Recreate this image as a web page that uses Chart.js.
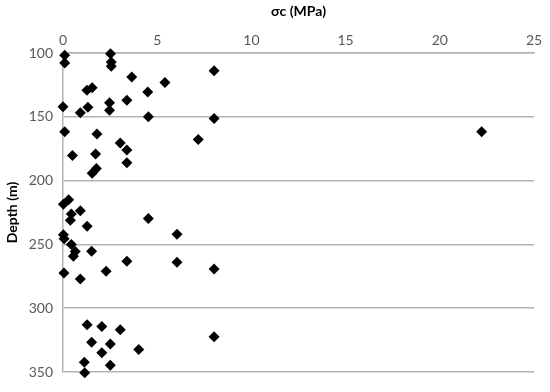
<!DOCTYPE html>
<html>
<head>
<meta charset="utf-8">
<script src="https://cdn.jsdelivr.net/npm/chart.js@4.4.1/dist/chart.umd.min.js"></script>
<style>
html,body{margin:0;padding:0;background:#fff;}
#wrap{width:550px;height:392px;position:relative;}
</style>
</head>
<body>
<div id="wrap"><canvas id="c" width="550" height="392"></canvas></div>
<script>
const sigmaC = [0.09,0.09,2.52,2.56,2.56,8.02,3.65,5.41,4.5,1.55,1.27,0.0,1.32,0.92,2.47,2.47,3.39,4.53,8.02,0.09,1.8,7.18,3.04,3.39,0.5,1.73,3.39,1.77,1.55,22.22,
0.3,0.02,0.44,0.92,0.39,1.28,4.53,6.05,0.02,0.06,0.44,0.65,0.55,1.52,3.39,6.05,8.02,2.29,0.05,0.92,
1.28,2.06,3.04,8.02,1.52,2.51,4.02,2.06,1.13,2.51,1.15];
const depth = [101.8,107.8,100.5,107,110.4,114,118.8,123.2,130.5,127.3,129.2,142.2,142.5,146.8,139,144.8,137,150,151.3,161.8,163.5,167.7,170.6,176,180.4,179.2,186,190.5,194.3,161.7,
215,218.5,226.2,223.7,231,235.7,229.7,242.1,242.5,245.5,250,255.5,259.3,255.4,263.2,263.9,269.2,271,272.4,277.1,
313,314.3,316.8,322.4,326.7,328,332.4,335,342.4,344.7,350.5];
const xTitle = 'σc (MPa)';
const yTitle = 'Depth (m)';

const points = sigmaC.map((v,i)=>({x:v,y:depth[i]}));
const FONT = "Lato, 'Open Sans', sans-serif";
const gridCol = '#b3b3b3';

new Chart(document.getElementById('c'), {
  type: 'scatter',
  data: { datasets: [{ data: points, pointStyle: 'rectRot', pointRadius: 5.5, pointHoverRadius: 5.5,
    backgroundColor: '#000', borderColor: '#000', borderWidth: 0, clip: false }] },
  options: {
    responsive: false, animation: false, devicePixelRatio: 1,
    layout: { padding: { left: 4, right: 16, top: 3, bottom: 20 } },
    plugins: { legend: { display: false }, tooltip: { enabled: false } },
    scales: {
      x: {
        type: 'linear', position: 'top', min: 0, max: 25,
        ticks: { stepSize: 5, color: '#595959', font: { family: FONT, size: 14 }, padding: 4 },
        grid: { display: false, drawTicks: false },
        border: { display: true, color: gridCol, width: 1.5 },
        title: { display: true, text: xTitle, color: '#000', font: { family: FONT, size: 14, weight: 'bold' }, padding: { top: 0, bottom: 1 } },
        afterFit: s => { s.height = 50; }
      },
      y: {
        type: 'linear', reverse: true, min: 100, max: 350,
        ticks: { stepSize: 50, color: '#595959', font: { family: FONT, size: 14 }, padding: 10 },
        grid: { color: gridCol, lineWidth: 1.5, drawTicks: false },
        border: { display: true, color: gridCol, width: 1.5 },
        title: { display: true, text: yTitle, color: '#000', font: { family: FONT, size: 14, weight: 'bold' }, padding: { top: 0, bottom: 4 } },
        afterFit: s => { s.width = 59; }
      }
    }
  }
});
</script>
</body>
</html>
